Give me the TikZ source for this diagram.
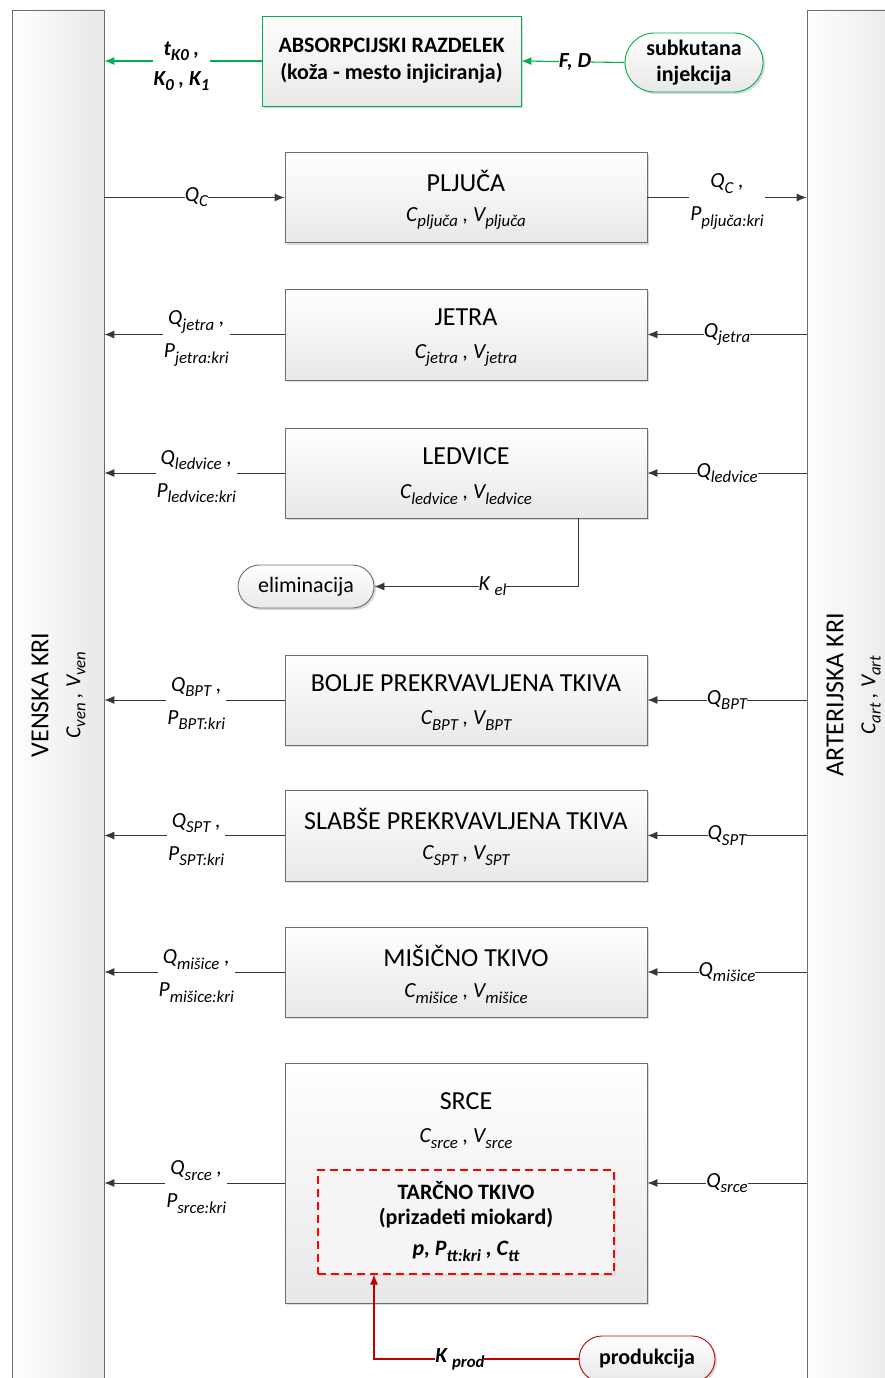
\documentclass[tikz,border=0pt]{standalone}
\usepackage{fontspec}
\setmainfont{Carlito}
\usetikzlibrary{arrows.meta,shadows,calc,shapes.misc}
\definecolor{lgreen}{RGB}{0,176,80}
\definecolor{dred}{RGB}{192,0,0}
\definecolor{bred}{RGB}{255,0,0}
\definecolor{lcol}{RGB}{55,55,55}
\definecolor{bcol}{RGB}{110,110,110}
\makeatletter
\newcommand{\sbs}[1]{\raisebox{-0.24em}{\fontsize{\strip@pt\dimexpr 0.78\dimexpr\f@size pt\relax\relax}{1}\selectfont #1}}
\makeatother
\tikzset{
  bar/.style={draw=bcol, line width=0.8pt, left color=white, right color=black!9, minimum width=92pt, minimum height=1400pt, inner sep=0pt},
  organ/.style={draw=bcol, line width=0.9pt, top color=white, bottom color=black!9, minimum width=362pt, minimum height=90pt, inner sep=0pt,
    drop shadow={shadow xshift=2pt, shadow yshift=-2pt, fill=black!25, opacity=0.6}},
  ttl/.style={font=\fontsize{26}{30}\selectfont, inner sep=0pt},
  sub/.style={font=\fontsize{21.5}{25}\selectfont\itshape, inner sep=0pt},
  lab/.style={font=\fontsize{21.5}{33}\selectfont\itshape, align=center, fill=white, inner sep=1pt},
  lab2/.style={lab, yshift=-4pt},
  blab/.style={font=\fontsize{21.5}{30}\selectfont\bfseries\itshape, align=center, fill=white, inner sep=1pt},
  arr/.style={draw=lcol, line width=0.9pt, -{Latex[length=10pt,width=8pt]}},
  garr/.style={draw=lgreen, line width=1.1pt, -{Latex[length=10pt,width=8pt]}},
  rarr/.style={draw=dred, line width=1.1pt, -{Latex[length=10pt,width=8pt]}},
  pill/.style={rounded rectangle, line width=0.9pt, top color=white, bottom color=black!9, inner sep=0pt,
    drop shadow={shadow xshift=2pt, shadow yshift=-2pt, fill=black!25, opacity=0.6}},
}
\begin{document}
\begin{tikzpicture}[x=1pt,y=-1pt]
\useasboundingbox (0,0) rectangle (885,1378);
% bars
\node[bar] (ven) at (58,710) {};
\node[bar] (art) at (853,710) {};
\node[rotate=90, font=\fontsize{26}{30}\selectfont, inner sep=0pt] (venT) at (40,695) {VENSKA KRI};
\node[rotate=90, font=\fontsize{21.5}{25}\selectfont\itshape, inner sep=0pt] (venS) at (76,695) {C\sbs{ven} , V\sbs{ven}};
\node[rotate=90, font=\fontsize{26}{30}\selectfont, inner sep=0pt] (artT) at (835,695) {ARTERIJSKA KRI};
\node[rotate=90, font=\fontsize{21.5}{25}\selectfont\itshape, inner sep=0pt] (artS) at (871,695) {C\sbs{art} , V\sbs{art}};

% absorption
\node[organ, draw=lgreen, minimum width=259pt, minimum height=90pt, align=center,
  font=\fontsize{22}{27}\selectfont\bfseries] (abs) at (391.5,61) {ABSORPCIJSKI RAZDELEK\\[0pt](koža - mesto injiciranja)};
\node[pill, draw=lgreen, minimum width=138pt, minimum height=59pt, align=center,
  font=\fontsize{22}{26}\selectfont\bfseries] (sc) at (694,62.5) {subkutana\\injekcija};
\draw[garr] (abs.west) -- node[blab, pos=0.51, yshift=-5pt] {t\sbs{K0} ,\\K\sbs{0} , K\sbs{1}} (abs.west -| ven.east);
\draw[garr] (sc.west) -- node[blab, pos=0.48, inner sep=0pt] {F, D} (abs.east);

% organs
\node[organ] (plj) at (466,197.5) {};
\node[ttl] (pljT) at ($(plj.north)+(0,29)$) {PLJUČA};
\node[sub] (pljS) at ($(plj.north)+(0,66)$) {C\sbs{pljuča} , V\sbs{pljuča}};
\draw[arr] (plj.west -| ven.east) -- node[lab, pos=0.51, inner sep=0pt] {Q\sbs{C}} (plj.west);
\draw[arr] (plj.east) -- node[lab2, pos=0.5] {Q\sbs{C} ,\\P\sbs{pljuča:kri}} (plj.east -| art.west);

\node[organ, minimum height=91pt] (jet) at (466,334.5) {};
\node[ttl] (jetT) at ($(jet.north)+(0,29)$) {JETRA};
\node[sub] (jetS) at ($(jet.north)+(0,67)$) {C\sbs{jetra} , V\sbs{jetra}};
\draw[arr] (jet.west) -- node[lab2, pos=0.49] {Q\sbs{jetra} ,\\P\sbs{jetra:kri}} (jet.west -| ven.east);
\draw[arr] (jet.east -| art.west) -- node[lab, pos=0.5, inner sep=0pt] {Q\sbs{jetra}} (jet.east);

\node[organ] (led) at (466,473) {};
\node[ttl] (ledT) at ($(led.north)+(0,29)$) {LEDVICE};
\node[sub] (ledS) at ($(led.north)+(0,67)$) {C\sbs{ledvice} , V\sbs{ledvice}};
\draw[arr] (led.west) -- node[lab2, pos=0.49] {Q\sbs{ledvice} ,\\P\sbs{ledvice:kri}} (led.west -| ven.east);
\draw[arr] (led.east -| art.west) -- node[lab, pos=0.5, inner sep=0pt] {Q\sbs{ledvice}} (led.east);

\node[pill, draw=bcol, minimum width=136pt, minimum height=43pt, font=\fontsize{22}{26}\selectfont] (elim) at (306,586.5) {eliminacija};
\coordinate (ledout) at ($(led.south)+(112,0)$);
\draw[arr] (ledout) |- node[lab, pos=0.71, inner sep=0pt] {K \sbs{el}} (elim);

\node[organ] (bpt) at (466,700) {};
\node[ttl] (bptT) at ($(bpt.north)+(0,29)$) {BOLJE PREKRVAVLJENA TKIVA};
\node[sub] (bptS) at ($(bpt.north)+(0,66)$) {C\sbs{BPT} , V\sbs{BPT}};
\draw[arr] (bpt.west) -- node[lab2, pos=0.49] {Q\sbs{BPT} ,\\P\sbs{BPT:kri}} (bpt.west -| ven.east);
\draw[arr] (bpt.east -| art.west) -- node[lab, pos=0.5, inner sep=0pt] {Q\sbs{BPT}} (bpt.east);

\node[organ, minimum height=91pt] (spt) at (466,835.5) {};
\node[ttl] (sptT) at ($(spt.north)+(0,29)$) {SLABŠE PREKRVAVLJENA TKIVA};
\node[sub] (sptS) at ($(spt.north)+(0,66)$) {C\sbs{SPT} , V\sbs{SPT}};
\draw[arr] (spt.west) -- node[lab2, pos=0.49] {Q\sbs{SPT} ,\\P\sbs{SPT:kri}} (spt.west -| ven.east);
\draw[arr] (spt.east -| art.west) -- node[lab, pos=0.5, inner sep=0pt] {Q\sbs{SPT}} (spt.east);

\node[organ] (mis) at (466,972) {};
\node[ttl] (misT) at ($(mis.north)+(0,29)$) {MIŠIČNO TKIVO};
\node[sub] (misS) at ($(mis.north)+(0,67)$) {C\sbs{mišice} , V\sbs{mišice}};
\draw[arr] (mis.west) -- node[lab2, pos=0.49] {Q\sbs{mišice} ,\\P\sbs{mišice:kri}} (mis.west -| ven.east);
\draw[arr] (mis.east -| art.west) -- node[lab, pos=0.5, inner sep=0pt] {Q\sbs{mišice}} (mis.east);

\node[organ, minimum height=240pt] (src) at (466,1183) {};
\node[ttl] (srcT) at ($(src.north)+(0,39)$) {SRCE};
\node[sub] (srcS) at ($(src.north)+(0,76)$) {C\sbs{srce} , V\sbs{srce}};
\draw[arr] (src.west) -- node[lab2, pos=0.49] {Q\sbs{srce} ,\\P\sbs{srce:kri}} (src.west -| ven.east);
\draw[arr] (src.east -| art.west) -- node[lab, pos=0.5, inner sep=0pt] {Q\sbs{srce}} (src.east);

\node[draw=bred, dashed, dash pattern=on 8pt off 5pt, line width=1.1pt, minimum width=296pt, minimum height=104pt, inner sep=0pt,
  drop shadow={shadow xshift=2pt, shadow yshift=-2pt, fill=black!20, opacity=0.5}, fill=white!96!black] (tt) at (466,1222) {};
\node[font=\fontsize{22}{26}\selectfont\bfseries, inner sep=0pt] (ttT) at ($(tt.north)+(0,21)$) {TARČNO TKIVO};
\node[font=\fontsize{22}{26}\selectfont\bfseries, inner sep=0pt] (ttP) at ($(tt.north)+(0,49)$) {(prizadeti miokard)};
\node[font=\fontsize{22}{26}\selectfont\bfseries\itshape, inner sep=0pt] (ttS) at ($(tt.north)+(0,82)$) {p, P\sbs{tt:kri} , C\sbs{tt}};

\node[pill, draw=dred, minimum width=136pt, minimum height=46pt, font=\fontsize{22}{26}\selectfont\bfseries] (prod) at (647,1359) {produkcija};
\coordinate (ttin) at ($(tt.south)+(-92,0)$);
\draw[rarr] (prod.west) -| node[blab, pos=0.29, inner sep=0pt] {K \sbs{prod}} (ttin);
\end{tikzpicture}
\end{document}
